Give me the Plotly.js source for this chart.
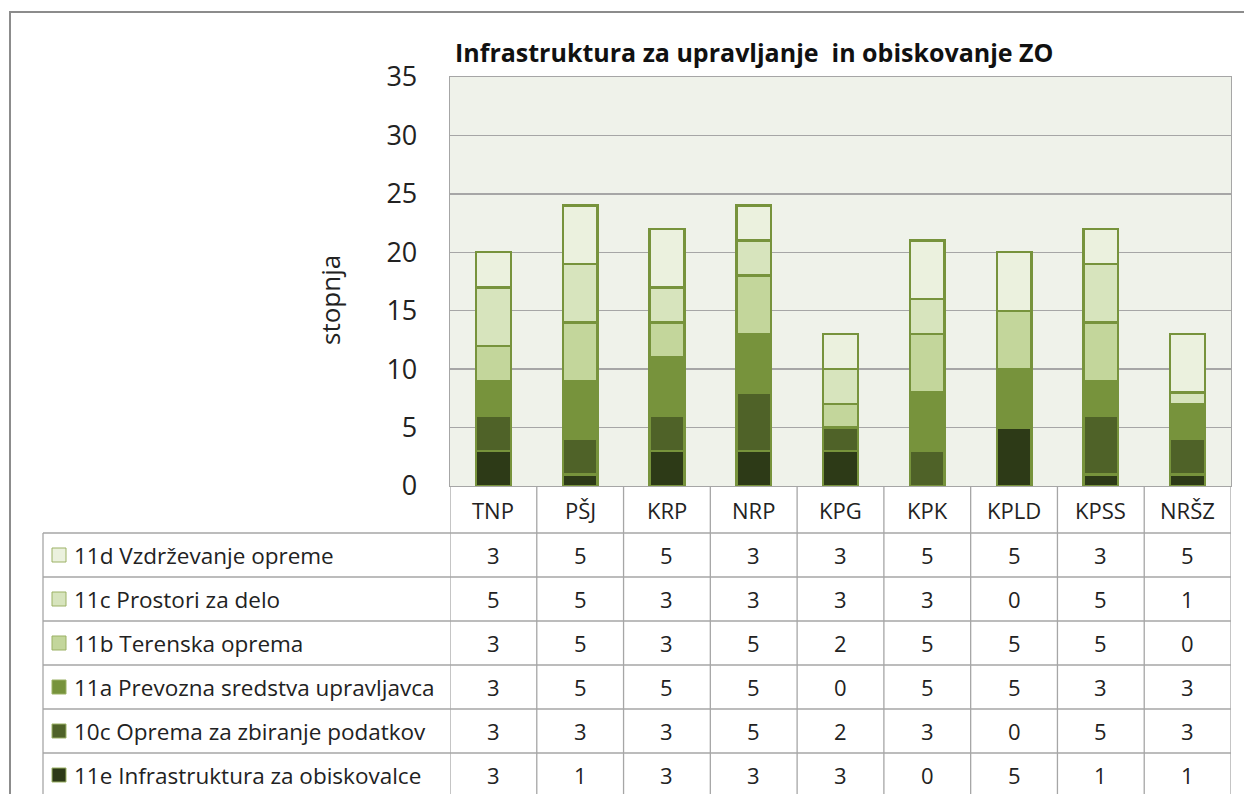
<!DOCTYPE html>
<html><head><meta charset="utf-8">
<script src="https://cdn.plot.ly/plotly-3.0.1.min.js"></script>
<style>html,body{margin:0;padding:0;background:#fff}#chart{width:1244px;height:794px}</style>
</head><body><div id="chart"></div>
<script>
const categories = ['TNP','PŠJ','KRP','NRP','KPG','KPK','KPLD','KPSS','NRŠZ'];
const s11e = [3,1,3,3,3,0,5,1,1];
const s10c = [3,3,3,5,2,3,0,5,3];
const s11a = [3,5,5,5,0,5,5,3,3];
const s11b = [3,5,3,5,2,5,5,5,0];
const s11c = [5,5,3,3,3,3,0,5,1];
const s11d = [3,5,5,3,3,5,5,3,5];
const seriesNames = ['11e Infrastruktura za obiskovalce','10c Oprema za zbiranje podatkov','11a Prevozna sredstva upravljavca','11b Terenska oprema','11c Prostori za delo','11d Vzdrževanje opreme'];
const seriesColors = ['#2D3A17','#4F6228','#77933C','#C3D69B','#D7E4BD','#EBF1DE'];
const seriesValues = [s11e,s10c,s11a,s11b,s11c,s11d];
const yTicks = [0,5,10,15,20,25,30,35];

const FONT = 'Open Sans, Noto Sans, sans-serif';
const L=450, R=1231, T=77, B=486, W=1244, H=794;
const px = x => (x-L)/(R-L);
const py = y => (B-y)/(B-T);

const traces = seriesValues.map((v,i)=>({
  type:'bar', x:categories, y:v, name:seriesNames[i], width:0.4,
  marker:{color:seriesColors[i], line:{color:'#77933C', width:2.4}},
  hoverinfo:'skip'
}));

const shapes = [];
const annotations = [];
const lineColor = '#A6A6A6';
shapes.push({type:'rect', xref:'paper', yref:'paper', x0:px(10), x1:px(1260), y0:py(12), y1:py(820), line:{color:'#8C8C8C', width:2}, fillcolor:'rgba(0,0,0,0)', layer:'below'});
const rowOrder = [5,4,3,2,1,0];
const rowTop = 533, rowH = 44;
for (let r=0; r<=rowOrder.length; r++) {
  const y = rowTop + r*rowH;
  shapes.push({type:'line', xref:'paper', yref:'paper', x0:px(43), x1:px(R), y0:py(y), y1:py(y), line:{color:lineColor, width:1.3}});
}
shapes.push({type:'line', xref:'paper', yref:'paper', x0:px(43), x1:px(43), y0:py(rowTop), y1:py(820), line:{color:lineColor, width:1.3}});
for (let k=0; k<=categories.length; k++) {
  shapes.push({type:'line', xref:'x', yref:'paper', x0:k-0.5, x1:k-0.5, y0:py(B), y1:py(820), line:{color:lineColor, width:1.3}});
}
categories.forEach((c,k)=>{
  annotations.push({xref:'x', yref:'paper', x:c, y:py(510), text:c, showarrow:false, font:{family:FONT, size:22, color:'#222'}, xanchor:'center', yanchor:'middle'});
});
rowOrder.forEach((si,r)=>{
  const yc = rowTop + r*rowH + rowH/2;
  shapes.push({type:'rect', xref:'paper', yref:'paper', x0:px(52), x1:px(66), y0:py(yc-7), y1:py(yc+7), fillcolor:seriesColors[si], line:{color:'#9BB164', width:1}});
  annotations.push({xref:'paper', yref:'paper', x:px(72), y:py(yc), text:seriesNames[si], showarrow:false, xanchor:'left', yanchor:'middle', font:{family:FONT, size:22.5, color:'#222'}});
  seriesValues[si].forEach((v,k)=>{
    annotations.push({xref:'x', yref:'paper', x:categories[k], y:py(yc), text:String(v), showarrow:false, xanchor:'center', yanchor:'middle', font:{family:FONT, size:22, color:'#222'}});
  });
});
annotations.push({xref:'paper', yref:'paper', x:px(330), y:py(300), text:'stopnja', textangle:-90, showarrow:false, xanchor:'center', yanchor:'middle', font:{family:FONT, size:26, color:'#222'}});
annotations.push({xref:'paper', yref:'paper', x:px(453), y:py(52), text:'<b>Infrastruktura za upravljanje  in obiskovanje ZO</b>', showarrow:false, xanchor:'left', yanchor:'middle', font:{family:FONT, size:25, color:'#111'}});

const layout = {
  width:W, height:H, margin:{l:L, r:W-R, t:T, b:H-B, pad:0},
  paper_bgcolor:'#ffffff', plot_bgcolor:'#EFF2EA',
  barmode:'stack', showlegend:false,
  xaxis:{type:'category', showticklabels:false, ticks:'', showgrid:false, zeroline:false, showline:true, linecolor:lineColor, linewidth:1.3, mirror:true, range:[-0.5, categories.length-0.5], fixedrange:true},
  yaxis:{range:[0,35], tickvals:yTicks, ticktext:yTicks.map(String), showgrid:true, gridcolor:lineColor, gridwidth:1.5, zeroline:false, showline:true, linecolor:lineColor, linewidth:1.3, mirror:true, ticks:'', ticklabelstandoff:26, tickfont:{family:FONT, size:27, color:'#222'}, fixedrange:true},
  shapes, annotations
};
Plotly.newPlot('chart', traces, layout, {displayModeBar:false, staticPlot:true});
</script></body></html>
